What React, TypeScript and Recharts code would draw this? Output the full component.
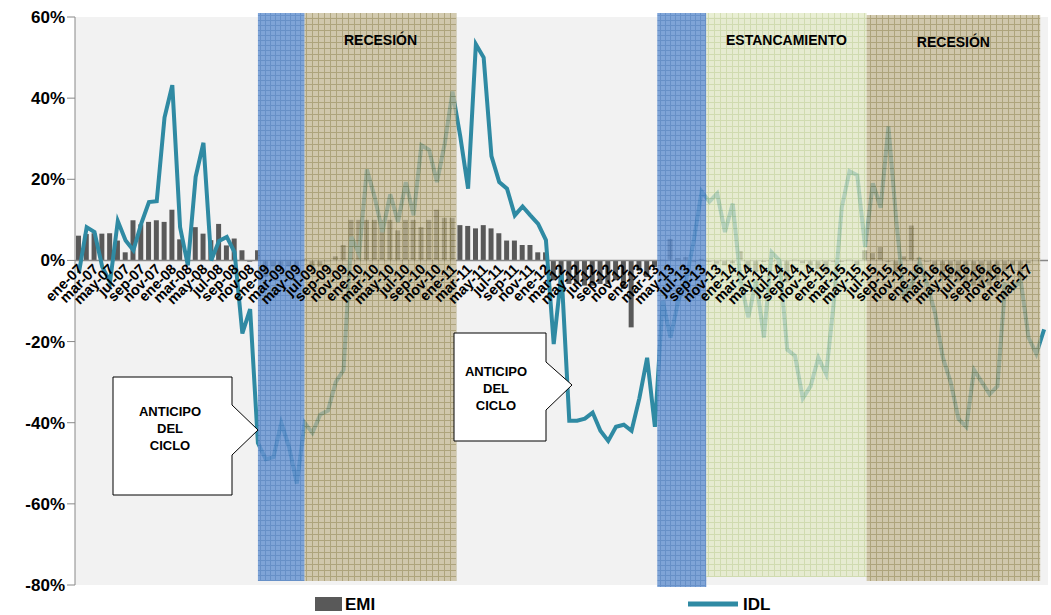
import React from 'react';
import { ComposedChart, Bar, Line, XAxis, YAxis, ReferenceArea, ReferenceLine } from 'recharts';

const MONTHS = ['ene', 'feb', 'mar', 'abr', 'may', 'jun', 'jul', 'ago', 'sep', 'oct', 'nov', 'dic'];
const emi = [
  6.1, 6.5, 6.7, 6.6, 6.7, 4.9, 2.0, 9.9, 8.9, 9.5, 9.9, 9.5, 12.5, 5.2, 1.0, 8.2, 6.6, 5.0, 9.0, 3.7,
  5.4, 2.5, -0.3, 2.5, -4.1, -1.5, -1.2, -1.5, -1.5, 0.3, -1.5, -1.5, -0.2, 1.0, 3.8, 10, 10, 10, 10, 10,
  10, 7.4, 10, 10, 8.2, 10, 12.5, 10.5, 10.5, 8.7, 8.5, 7.9, 8.7, 7.9, 6.7, 4.9, 4.9, 3.8, 3.8, 2.0,
  2.0, -4.9, -6, -5.8, -5.8, -6.2, -6.2, -5.8, -5.8, -4.9, -7, -16.5, -2.5, -4.1, -1.6, 0.2, 5.3, 0.6, 0.8, -0.4,
  0.4, -0.4, -0.8, -1.2, -0.7, 2.3, -2.1, -2.9, -0.4, -0.4, -1.6, -5.3, 0.2, -0.7, -1.2, -2.1, -2.9, -0.4, -0.4, 0.2,
  -1.2, 2.5, 1.8, 3.3, -0.4, -2.9, 1.0, 8.6, 0.7, -0.4, -3.3, -4.5, -4.5, -5.3, -6.2, -6.2, -6.2, -6.2, -4.9, -2.5,
  -1.2, -4.9, -0.7,
];
const idl = [
  -3.1, 8.2, 7, -1.6, -5.3, 9.7, 4.9, 2.5, 9, 14.4, 14.6, 35.2, 43.2, 8.2, -1.2, 20.6, 29, 0, 4.8, 5.8,
  2, -18, -12, -45, -49, -48.5, -40, -46, -55, -40, -42.5, -38, -37, -30, -27, 5.8, 1.6, 22.4, 15.6, 7,
  16.3, 9.5, 19.3, 11.1, 28.4, 27.2, 19.3, 28.8, 41.6, 30.5, 17.7, 53.3, 50, 25.7, 19.3, 17.7, 11.1, 13.3, 11.1, 9,
  5, -20.6, -3, -39.5, -39.5, -39, -37.5, -42, -44.5, -41, -40.5, -42, -34, -24, -41, -10, -19, -10, -5, 5,
  17, 14.5, 16.5, 7, 14, -5, -14, -5, -19, 2, 0, -22, -23.5, -34, -31, -24, -28, -10, 13, 22,
  21, 3.3, 19, 13, 33, 10, -9, -6, -0.4, -6, -13, -24, -30, -39, -41, -27, -30, -33, -31, -6,
  -7, -5, -19, -23, -17,
];
const yTicks = [60, 40, 20, 0, -20, -40, -60, -80];

const data = idl.map((v, i) => ({
  x: i + 1,
  label: `${MONTHS[i % 12]}-${String(7 + Math.floor(i / 12)).padStart(2, '0')}`,
  emi: i < emi.length ? emi[i] : null,
  idl: v,
}));
const xTicks = data.filter((_, i) => i % 2 === 0 && i < 123).map((d) => d.x);

const FONT = '"Liberation Sans", Arial, sans-serif';
const TEAL = '#2f8aa3';

const XTick = (props: any) => {
  const { x, payload } = props;
  const lab = data[payload.value - 1]?.label ?? '';
  return (
    <text x={x + 5} y={270} transform={`rotate(-45 ${x + 5} 270)`} textAnchor="end" fontFamily={FONT} fontWeight="bold" fontSize={14.5} fill="#000">
      {lab}
    </text>
  );
};

const regionLabel = (text: string) => ({
  value: text, position: 'insideTop' as const, offset: 22, fill: '#000', fontFamily: FONT, fontWeight: 'bold', fontSize: 14,
});

export default function App() {
  return (
    <div style={{ position: 'absolute', left: 0, top: 0, width: 1051, height: 615, background: '#fff' }}>
      <ComposedChart width={1051} height={615} data={data} margin={{ top: 17, right: 3, left: 0, bottom: 0 }}>
        <defs>
          <pattern id="gBlue" width="5" height="5" patternUnits="userSpaceOnUse">
            <rect width="5" height="5" fill="#6b96d2" />
            <path d="M0 0.5H5M0.5 0V5" stroke="#4f7fc0" strokeWidth="1" />
          </pattern>
          <pattern id="gTan" width="6" height="6" patternUnits="userSpaceOnUse">
            <rect width="6" height="6" fill="#c4b995" />
            <path d="M0 0.5H6M0.5 0V6" stroke="#978a55" strokeWidth="1" />
          </pattern>
          <pattern id="gGreen" width="6" height="6" patternUnits="userSpaceOnUse">
            <rect width="6" height="6" fill="#e2e9c6" />
            <path d="M0 0.5H6M0.5 0V6" stroke="#c5d39a" strokeWidth="1" />
          </pattern>
        </defs>
        <ReferenceArea x1={0.5} x2={125.5} y1={-80} y2={60} fill="#f2f2f2" fillOpacity={1} stroke="none" />
        <XAxis dataKey="x" type="number" domain={[0.5, 125.5]} ticks={xTicks} interval={0} height={30} tick={<XTick />} tickLine={false} axisLine={false} />
        <YAxis domain={[-80, 60]} ticks={yTicks} width={75} tickFormatter={(v) => `${v}%`} tick={{ fontFamily: FONT, fontWeight: 'bold', fontSize: 17, fill: '#000' }} axisLine={{ stroke: '#888' }} tickLine={{ stroke: '#888' }} tickSize={8} />
        <ReferenceLine y={0} stroke="#888" strokeWidth={1.5} />
        <Bar dataKey="emi" fill="#595959" barSize={5} isAnimationActive={false} />
        <Line dataKey="idl" stroke={TEAL} strokeWidth={4} dot={false} isAnimationActive={false} />
        <ReferenceArea zIndex={1000} x1={24} x2={30} y1={-79} y2={61} ifOverflow="visible" fill="url(#gBlue)" fillOpacity={0.85} stroke="none" />
        <ReferenceArea zIndex={1000} x1={30} x2={49.5} y1={-79} y2={61} ifOverflow="visible" fill="url(#gTan)" fillOpacity={0.75} stroke="none" label={regionLabel('RECESIÓN')} />
        <ReferenceArea zIndex={1000} x1={75.3} x2={81.6} y1={-80.5} y2={61} ifOverflow="visible" fill="url(#gBlue)" fillOpacity={0.85} stroke="none" />
        <ReferenceArea zIndex={1000} x1={81.6} x2={102.2} y1={-78} y2={61} ifOverflow="visible" fill="url(#gGreen)" fillOpacity={0.75} stroke="none" label={regionLabel('ESTANCAMIENTO')} />
        <ReferenceArea zIndex={1000} x1={102.2} x2={124.5} y1={-79} y2={60.5} ifOverflow="visible" fill="url(#gTan)" fillOpacity={0.75} stroke="none" label={regionLabel('RECESIÓN')} />
      </ComposedChart>
      <svg width={1051} height={615} style={{ position: 'absolute', left: 0, top: 0, pointerEvents: 'none' }}>
        <g fontFamily={FONT} fontWeight="bold" fontSize={13} textAnchor="middle">
          <polygon points="113,377 232,377 232,405 258,430 232,455 232,495 113,495" fill="#fff" stroke="#000" strokeWidth={1} />
          <text x={170} y={416}>ANTICIPO</text>
          <text x={170} y={433}>DEL</text>
          <text x={170} y={450}>CICLO</text>
          <polygon points="454,333 546,333 546,362 572,385 546,410 546,441 454,441" fill="#fff" stroke="#000" strokeWidth={1} />
          <text x={496} y={376}>ANTICIPO</text>
          <text x={496} y={393}>DEL</text>
          <text x={496} y={410}>CICLO</text>
        </g>
        <rect x={315} y={597} width={27} height={14} fill="#595959" />
        <text x={345} y={610} fontFamily={FONT} fontWeight="bold" fontSize={17}>EMI</text>
        <line x1={688} y1={604} x2={738} y2={604} stroke={TEAL} strokeWidth={5} />
        <text x={743} y={610} fontFamily={FONT} fontWeight="bold" fontSize={17}>IDL</text>
      </svg>
    </div>
  );
}
